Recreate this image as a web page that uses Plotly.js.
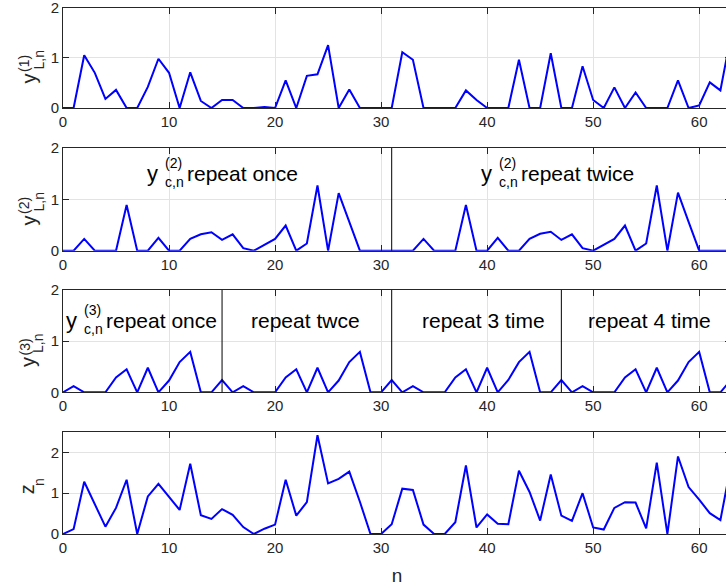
<!DOCTYPE html>
<html>
<head>
<meta charset="utf-8">
<script src="https://cdn.plot.ly/plotly-3.0.1.min.js"></script>
<style>
  html, body { margin: 0; padding: 0; background: #fff; overflow: hidden; }
  #wrap { width: 726px; height: 586px; overflow: hidden; }
  #plot { width: 740px; height: 586px; }
</style>
</head>
<body>
<div id="wrap"><div id="plot"></div></div>
<script>
// sample index
const n = [0,1,2,3,4,5,6,7,8,9,10,11,12,13,14,15,16,17,18,19,20,21,22,23,24,25,26,27,28,29,30,31,
           32,33,34,35,36,37,38,39,40,41,42,43,44,45,46,47,48,49,50,51,52,53,54,55,56,57,58,59,60,61,62,63];

// first-level sequence y_L^(1)
const yL1 = [0,0,1.05,0.70,0.18,0.36,0,0,0.42,0.98,0.70,0,0.71,0.14,0,0.16,0.16,0,0,0.02,0,0.55,0,0.64,0.67,1.25,0,0.37,0,0,0,0,
             1.11,0.96,0,0,0,0,0.35,0.16,0,0,0,0.96,0,0,1.09,0,0,0.83,0.16,0,0.41,0,0.31,0,0,0,0.55,0,0.05,0.51,0.35,1.45];

// second-level sequence y_L^(2)
const yL2 = [0,0,0.23,0,0,0,0.89,0,0,0.25,0,0,0.23,0.32,0.36,0.21,0.32,0.05,0,0.11,0.23,0.49,0,0.14,1.27,0,1.12,0.56,0,0,0,0,
             0,0,0.23,0,0,0,0.89,0,0,0.25,0,0,0.23,0.33,0.37,0.21,0.32,0.05,0,0.11,0.23,0.49,0,0.14,1.27,0,1.13,0.56,0,0,0,0];

// third-level sequence y_L^(3)
const yL3 = [0,0.12,0,0,0,0.29,0.45,0,0.48,0,0.23,0.59,0.79,0,0,0.24,
             0,0.12,0,0,0,0.29,0.45,0,0.48,0,0.23,0.59,0.79,0,0,0.24,
             0,0.12,0,0,0,0.29,0.45,0,0.48,0,0.24,0.59,0.79,0,0,0.24,
             0,0.12,0,0,0,0.29,0.45,0,0.48,0,0.23,0.59,0.79,0,0,0.24];

// combined output z_n
const zn = [0,0.12,1.28,0.72,0.18,0.64,1.33,0,0.92,1.23,0.92,0.59,1.72,0.46,0.37,0.61,0.47,0.17,0,0.13,0.23,1.33,0.45,0.78,2.42,1.24,1.35,1.53,0.79,0,0,0.24,
            1.11,1.08,0.23,0,0,0.29,1.68,0.16,0.48,0.25,0.24,1.55,1.03,0.33,1.46,0.45,0.32,1.00,0.16,0.11,0.64,0.78,0.77,0.14,1.75,0,1.90,1.15,0.84,0.51,0.34,1.70];

// block boundaries
const bounds2 = [31];
const bounds3 = [15, 31, 47];

// block captions: [x, y, superscript, subscript, caption]
const captions2 = [[8, 1.5, '(2)', 'c,n', 'repeat once'], [39.5, 1.5, '(2)', 'c,n', 'repeat twice']];
const captions3 = [[0.35, 1.4, '(3)', 'c,n', 'repeat once'], [17.7, 1.4, '', '', 'repeat twce'],
                   [33.9, 1.4, '', '', 'repeat 3 time'], [49.5, 1.4, '', '', 'repeat 4 time']];

const FONT = 'Liberation Sans, Arial, Helvetica, sans-serif';
const AX = '#262626';
const xTicks = [0, 10, 20, 30, 40, 50, 60];

// plot-area pixel frame
const L = 63, R = 731, T = 6, B = 534;
const px = v => (v - L) / (R - L);
const py = v => (B - v) / (B - T);

function xAxis(anchor) {
  return {
    anchor: anchor, domain: [0, 1], range: [0, 63], tickvals: xTicks,
    ticks: 'inside', ticklen: 6, tickcolor: AX, showline: true, linecolor: AX, linewidth: 1,
    mirror: 'ticks', showgrid: true, gridcolor: '#e3e3e3', gridwidth: 1, zeroline: false,
    ticklabeloverflow: 'allow',
    tickfont: { family: FONT, size: 15, color: AX }
  };
}
function yAxis(anchor, dom, range, ticks) {
  return {
    anchor: anchor, domain: dom, range: range, tickvals: ticks,
    ticks: 'inside', ticklen: 6, tickcolor: AX, showline: true, linecolor: AX, linewidth: 1,
    mirror: 'ticks', showgrid: true, gridcolor: '#e3e3e3', gridwidth: 1, zeroline: false,
    ticklabeloverflow: 'allow',
    tickfont: { family: FONT, size: 15, color: AX }
  };
}

const lineStyle = { color: '#0000ff', width: 2 };
const traces = [
  { x: n, y: yL1, xaxis: 'x', yaxis: 'y', mode: 'lines', line: lineStyle, hoverinfo: 'skip' },
  { x: n, y: yL2, xaxis: 'x2', yaxis: 'y2', mode: 'lines', line: lineStyle, hoverinfo: 'skip' },
  { x: n, y: yL3, xaxis: 'x3', yaxis: 'y3', mode: 'lines', line: lineStyle, hoverinfo: 'skip' },
  { x: n, y: zn, xaxis: 'x4', yaxis: 'y4', mode: 'lines', line: lineStyle, hoverinfo: 'skip' }
];

const shapes = [];
bounds2.forEach(b => shapes.push({ type: 'line', xref: 'x2', yref: 'y2 domain', x0: b, x1: b, y0: 0, y1: 1,
  line: { color: '#000', width: 1 } }));
bounds3.forEach(b => shapes.push({ type: 'line', xref: 'x3', yref: 'y3 domain', x0: b, x1: b, y0: 0, y1: 1,
  line: { color: '#000', width: 1 } }));

const annotations = [];

// rotated y-axis labels with stacked super/subscripts
function yLabel(midPx, main, sup, sub) {
  const d = 10;
  annotations.push({ xref: 'paper', yref: 'paper', x: px(28), y: py(midPx + 11 + d), text: main, textangle: -90,
    showarrow: false, xanchor: 'center', yanchor: 'middle', font: { family: FONT, size: 20, color: AX } });
  if (sup) annotations.push({ xref: 'paper', yref: 'paper', x: px(24.5), y: py(midPx - 4 + d), text: sup, textangle: -90,
    showarrow: false, xanchor: 'center', yanchor: 'middle', font: { family: FONT, size: 14, color: AX } });
  annotations.push({ xref: 'paper', yref: 'paper', x: px(38), y: py(midPx - 7 + d), text: sub, textangle: -90,
    showarrow: false, xanchor: 'center', yanchor: 'middle', font: { family: FONT, size: 14, color: AX } });
}
yLabel(57.5, 'y', '(1)', 'L,n');
yLabel(199.5, 'y', '(2)', 'L,n');
yLabel(341, 'y', '(3)', 'L,n');
// z_n
annotations.push({ xref: 'paper', yref: 'paper', x: px(27.3), y: py(489), text: 'z', textangle: -90,
  showarrow: false, xanchor: 'center', yanchor: 'middle', font: { family: FONT, size: 20, color: AX } });
annotations.push({ xref: 'paper', yref: 'paper', x: px(39), y: py(482), text: 'n', textangle: -90,
  showarrow: false, xanchor: 'center', yanchor: 'middle', font: { family: FONT, size: 14, color: AX } });

// captions inside panels
function caption(xr, yr, c) {
  const [x, y, sup, sub, txt] = c;
  const base = { xref: xr, yref: yr, x: x, y: y, showarrow: false, xanchor: 'left', yanchor: 'middle' };
  let shift = 0;
  if (sup) {
    annotations.push(Object.assign({}, base, { text: 'y', xshift: -3, yshift: 0, font: { family: FONT, size: 22, color: '#000' } }));
    annotations.push(Object.assign({}, base, { text: sup, xshift: 15, yshift: 11, font: { family: FONT, size: 14, color: '#000' } }));
    annotations.push(Object.assign({}, base, { text: sub, xshift: 15, yshift: -8, font: { family: FONT, size: 14, color: '#000' } }));
    shift = 39;
  }
  annotations.push(Object.assign({}, base, { text: txt, xshift: shift - 2, yshift: 0, font: { family: FONT, size: 21, color: '#000' } }));
}
captions2.forEach(c => caption('x2', 'y2', c));
captions3.forEach(c => caption('x3', 'y3', c));

const layout = {
  width: 740, height: 586,
  margin: { l: L, r: 740 - R, t: T, b: 586 - B },
  paper_bgcolor: '#fff', plot_bgcolor: '#fff',
  showlegend: false,
  xaxis: xAxis('y'),
  xaxis2: xAxis('y2'),
  xaxis3: xAxis('y3'),
  xaxis4: Object.assign(xAxis('y4'), { title: { text: 'n', font: { family: FONT, size: 19, color: AX }, standoff: 13 } }),
  yaxis: yAxis('x', [py(108), py(7.5)], [0, 2], [0, 1, 2]),
  yaxis2: yAxis('x2', [py(250.7), py(148)], [0, 2], [0, 1, 2]),
  yaxis3: yAxis('x3', [py(392.3), py(290)], [0, 2], [0, 1, 2]),
  yaxis4: yAxis('x4', [0, py(432)], [0, 2.5], [0, 1, 2]),
  shapes: shapes,
  annotations: annotations
};

Plotly.newPlot('plot', traces, layout, { staticPlot: true, displayModeBar: false });
</script>
</body>
</html>
